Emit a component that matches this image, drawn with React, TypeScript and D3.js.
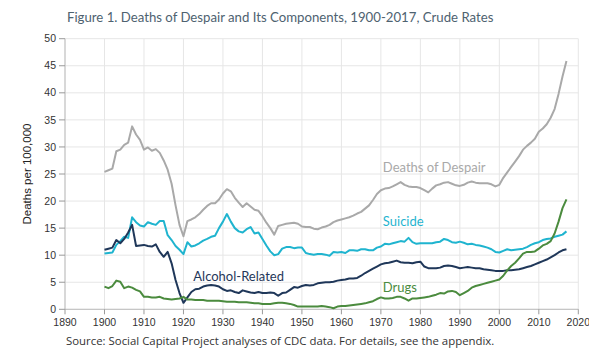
import React from "react";
import * as d3 from "d3";

const startYear = 1900;

const despair = [
  25.4, 25.7, 26.0, 29.2, 29.5, 30.4, 30.8, 33.8, 32.3, 31.3,
  29.5, 29.9, 29.3, 29.6, 28.9, 27.5, 25.8, 23.2, 19.2, 15.6,
  13.5, 16.3, 16.6, 17.0, 17.6, 18.4, 19.1, 19.6, 19.6, 20.3,
  21.4, 22.2, 21.8, 20.6, 19.7, 18.9, 19.6, 19.0, 18.4, 18.2,
  17.2, 16.0, 15.0, 13.8, 15.4, 15.6, 15.8, 15.9, 16.0, 15.8,
  15.3, 15.2, 15.2, 14.9, 14.8, 15.1, 15.3, 15.6, 16.1, 16.4,
  16.6, 16.8, 17.0, 17.3, 17.7, 18.0, 18.6, 19.2, 20.2, 21.3,
  22.0, 22.3, 22.4, 22.7, 23.1, 23.5, 23.0, 22.7, 22.6, 22.6,
  22.4, 22.0, 21.6, 22.3, 22.9, 23.1, 23.4, 23.5, 23.2, 22.9,
  22.8, 23.0, 23.4, 23.6, 23.4, 23.3, 23.3, 23.3, 23.1, 22.7,
  23.0, 24.3, 25.3, 26.3, 27.3, 28.3, 29.5, 30.2, 30.8, 31.5,
  32.8, 33.4, 34.2, 35.4, 37.0, 39.8, 43.0, 45.9,
];

const suicide = [
  10.3, 10.4, 10.5, 11.9, 12.6, 13.4, 13.2, 17.0, 16.1, 15.5,
  15.3, 16.1, 15.8, 15.6, 16.3, 16.3, 13.7, 12.8, 11.7, 11.0,
  10.2, 12.4, 11.6, 11.8, 12.2, 12.7, 13.0, 13.4, 13.6, 15.0,
  16.2, 17.6, 16.2, 15.0, 14.4, 14.2, 14.8, 15.2, 14.0, 14.2,
  13.0, 11.8, 10.7, 10.0, 10.2, 11.2, 11.5, 11.5, 11.3, 11.4,
  11.4, 10.4, 10.2, 10.1, 10.2, 10.2, 10.1, 9.9, 10.6, 10.5,
  10.6, 10.4, 10.9, 10.9, 10.8, 11.1, 11.1, 10.9, 10.9, 11.4,
  11.6, 12.1, 12.0, 12.2, 12.4, 12.6, 12.5, 13.2, 12.4, 12.1,
  12.2, 12.2, 12.2, 12.2, 12.4, 12.5, 13.0, 12.8, 12.4, 12.3,
  12.5, 12.3, 12.0, 12.1, 11.9, 11.8, 11.6, 11.4, 11.1, 10.6,
  10.5, 10.8, 11.1, 10.9, 11.0, 11.1, 11.2, 11.5, 11.9, 12.2,
  12.4, 12.8, 13.0, 13.1, 13.4, 13.6, 13.8, 14.4,
];

const alcohol = [
  11.0, 11.2, 11.4, 12.8, 12.2, 13.0, 14.2, 15.6, 11.7, 11.8,
  11.9, 11.7, 11.6, 12.0, 10.6, 9.7, 10.6, 8.5, 5.4, 3.0,
  1.2, 2.2, 3.2, 3.7, 3.8, 4.2, 4.4, 4.5, 4.4, 4.2,
  3.7, 3.4, 3.5, 3.2, 3.0, 3.5, 3.3, 3.1, 3.0, 3.2,
  3.0, 3.0, 3.1, 3.0, 2.5, 3.0, 3.1, 3.6, 4.1, 4.0,
  4.3, 4.5, 4.4, 4.5, 4.8, 4.9, 5.0, 5.0, 5.1, 5.3,
  5.4, 5.5, 5.7, 5.7, 5.8, 6.2, 6.7, 7.1, 7.5, 7.9,
  8.3, 8.5, 8.6, 8.8, 9.0, 8.7, 8.6, 8.6, 8.5, 8.7,
  8.8, 7.9, 7.6, 7.6, 7.6, 7.7, 8.0, 8.1, 8.0, 7.8,
  7.6, 7.7, 7.8, 7.7, 7.6, 7.6, 7.4, 7.3, 7.2, 7.1,
  7.1, 7.1, 7.2, 7.2, 7.3, 7.4, 7.6, 7.8, 8.0, 8.3,
  8.6, 8.9, 9.2, 9.6, 10.0, 10.5, 10.9, 11.1,
];

const drugs = [
  4.2, 3.9, 4.3, 5.3, 5.1, 3.9, 4.2, 4.0, 3.6, 3.3,
  2.3, 2.3, 2.2, 2.2, 2.3, 2.0, 1.9, 1.8, 1.9, 2.0,
  2.3, 1.8, 1.8, 1.7, 1.7, 1.7, 1.6, 1.6, 1.6, 1.6,
  1.5, 1.4, 1.4, 1.4, 1.3, 1.3, 1.3, 1.2, 1.1, 1.1,
  1.0, 1.0, 1.0, 1.1, 1.2, 1.2, 1.1, 1.0, 0.8, 0.5,
  0.5, 0.5, 0.5, 0.5, 0.5, 0.6, 0.5, 0.4, 0.2, 0.5,
  0.6, 0.6, 0.7, 0.8, 0.9, 1.0, 1.1, 1.3, 1.5, 1.9,
  2.2, 2.0, 2.0, 2.1, 2.3, 2.3, 2.0, 1.6, 2.0, 2.0,
  2.1, 2.2, 2.3, 2.5, 2.7, 3.0, 2.9, 3.3, 3.4, 3.2,
  2.6, 3.0, 3.4, 4.0, 4.3, 4.5, 4.7, 4.9, 5.1, 5.3,
  5.5, 6.2, 7.2, 8.0, 8.6, 9.4, 10.3, 10.6, 10.6, 10.7,
  11.2, 11.8, 12.1, 12.6, 14.0, 16.2, 18.7, 20.3,
];

const seriesNames = ["Deaths of Despair", "Suicide", "Alcohol-Related", "Drugs"];
const seriesColors = ["#a9a9a9", "#1fb4cf", "#1f3759", "#4b8b3e"];
const labelYears = [1970.5, 1970.5, 1922.5, 1970.5];
const labelValues = [25.4, 15.3, 5.3, 3.2];

const xTicks = d3.range(1890, 2021, 10);
const yTicks = d3.range(0, 51, 5);

const title = "Figure 1. Deaths of Despair and Its Components, 1900-2017, Crude Rates";
const yAxisTitle = "Deaths per 100,000";
const source = "Source: Social Capital Project analyses of CDC data. For details, see the appendix.";

export default function App() {
  const W = 589, H = 356;
  const left = 65, right = 578.3, top = 38.7, bottom = 309.3;
  const x = d3.scaleLinear().domain([1890, 2020]).range([left, right]);
  const y = d3.scaleLinear().domain([0, 50]).range([bottom, top]);
  const allSeries = [despair, suicide, alcohol, drugs];
  const line = d3
    .line<number>()
    .x((_, i) => x(startYear + i))
    .y((v) => y(v))
    .curve(d3.curveLinear);

  return (
    <svg
      width={W}
      height={H}
      style={{ position: "absolute", left: 0, top: 0, background: "#fff" }}
    >
      <text
        x={67}
        y={22}
        fontFamily="Lato, 'Noto Sans', sans-serif"
        fontSize={13.2}
        fill="#4e6270"
      >
        {title}
      </text>

      {/* gridlines */}
      {xTicks.map((t) => (
        <line key={"gx" + t} x1={x(t)} x2={x(t)} y1={top} y2={bottom} stroke="#e6e6e6" strokeWidth={1} />
      ))}
      {yTicks.map((t) => (
        <line key={"gy" + t} x1={left} x2={right} y1={y(t)} y2={y(t)} stroke="#e6e6e6" strokeWidth={1} />
      ))}

      {/* axes */}
      <line x1={left} x2={left} y1={top} y2={bottom} stroke="#bdbdbd" strokeWidth={1} />
      <line x1={left} x2={right} y1={bottom} y2={bottom} stroke="#bdbdbd" strokeWidth={1} />
      {yTicks.map((t) => (
        <g key={"yt" + t}>
          <line x1={left - 6} x2={left} y1={y(t)} y2={y(t)} stroke="#9a9a9a" />
          <text
            x={left - 9}
            y={y(t)}
            dy="0.35em"
            textAnchor="end"
            fontFamily="'Liberation Sans', Arial, sans-serif"
            fontSize={10.5}
            fill="#333"
          >
            {t}
          </text>
        </g>
      ))}
      {xTicks.map((t) => (
        <g key={"xt" + t}>
          <line x1={x(t)} x2={x(t)} y1={bottom} y2={bottom + 5} stroke="#9a9a9a" />
          <text
            x={x(t)}
            y={326}
            textAnchor="middle"
            fontFamily="'Liberation Sans', Arial, sans-serif"
            fontSize={10.5}
            fill="#333"
          >
            {t}
          </text>
        </g>
      ))}
      <text
        transform={`translate(31,${(top + bottom) / 2}) rotate(-90)`}
        textAnchor="middle"
        fontFamily="'Liberation Sans', Arial, sans-serif"
        fontSize={11.5}
        fill="#222"
      >
        {yAxisTitle}
      </text>

      {/* lines */}
      {allSeries.map((s, i) => (
        <path
          key={seriesNames[i]}
          d={line(s) || ""}
          fill="none"
          stroke={seriesColors[i]}
          strokeWidth={2}
          strokeLinejoin="round"
        />
      ))}

      {/* series labels */}
      {seriesNames.map((n, i) => (
        <text
          key={"lab" + n}
          x={x(labelYears[i])}
          y={y(labelValues[i])}
          fontFamily="Lato, 'Noto Sans', sans-serif"
          fontSize={13}
          fill={seriesColors[i]}
        >
          {n}
        </text>
      ))}

      <text
        x={66}
        y={345}
        fontFamily="'Open Sans', sans-serif"
        fontSize={11.4}
        fill="#333"
      >
        {source}
      </text>
    </svg>
  );
}
